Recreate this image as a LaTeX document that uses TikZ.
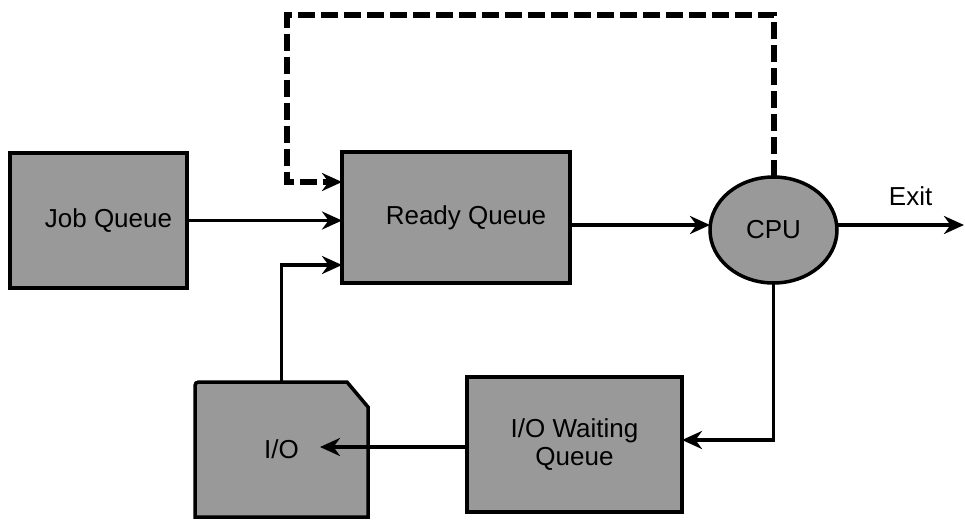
\documentclass[tikz,border=0pt]{standalone}
\usepackage{fontspec}
\setmainfont{Liberation Sans}
\usetikzlibrary{shapes,arrows.meta,positioning,backgrounds}

\begin{document}
\begin{tikzpicture}[x=0.5pt, y=-0.5pt, >={Stealth[length=10pt,width=9pt]},
    queue/.style={rectangle, draw, line width=1.75pt, fill=black!40, font=\fontsize{13}{14}\selectfont, inner sep=0pt, outer sep=0pt},
    flow/.style={->, line width=1.75pt}]
    \useasboundingbox (0,0) rectangle (965,520);

    % Nodes
    \node (job) [queue, minimum width=88.5pt, minimum height=67.5pt] at (98.5,220.5) {\hspace*{10pt}Job Queue};
    \node (ready) [queue, minimum width=114pt, minimum height=65.5pt, right=77.5pt of job, yshift=1.5pt] {\hspace*{10pt}Ready Queue};
    \node (cpu) [ellipse, draw, line width=1.75pt, fill=black!40, font=\fontsize{13}{14}\selectfont, minimum width=63.5pt, minimum height=53pt, inner sep=0pt, outer sep=0pt, right=70pt of ready, yshift=-6.25pt] {CPU};
    \node (iowait) [queue, align=center, minimum width=107.5pt, minimum height=67.5pt, below=47pt of ready, xshift=59.25pt] {I/O Waiting\\Queue};
    \node (io) [rectangle, font=\fontsize{13}{14}\selectfont, minimum width=86.5pt, minimum height=67.5pt, inner sep=0pt, outer sep=0pt, left=49.5pt of iowait, yshift=-2.5pt] {I/O};
    \coordinate (loop) at (287,15);
    \coordinate (exitpt) at (964,225);

    % I/O outline behind its label
    \begin{scope}[on background layer]
      \filldraw[fill=black!40, line width=1.75pt] (io.south west) -- ([yshift=-4pt]io.north west) .. controls (io.north west) .. ([xshift=4pt]io.north west) -- ([xshift=-10.5pt]io.north east) -- ([yshift=-12.5pt]io.north east) -- (io.south east) -- cycle;
    \end{scope}

    % Edges
    \draw[flow] (job.east) -- (job.east -| ready.west);
    \draw[flow, line width=3pt, dash pattern=on 8.5pt off 3pt] (cpu.north) |- (loop) |- ([yshift=17.75pt]ready.west);
    \draw[flow] (io.north) |- ([yshift=-23.75pt]ready.west);
    \draw[flow] ([yshift=-3.75pt]ready.east) -- ([yshift=2.5pt]cpu.west);
    \draw[flow] ([yshift=2.5pt]cpu.east) -- (exitpt) node (exit) [pos=0.58, above=7pt, inner sep=2pt, font=\fontsize{13}{14}\selectfont] {Exit};
    \draw[flow] (cpu.south) |- ([yshift=2.25pt]iowait.east);
    \draw[flow] ([yshift=-1.25pt]iowait.west) -- ([xshift=19.25pt,yshift=1.25pt]io.center);
\end{tikzpicture}
\end{document}
